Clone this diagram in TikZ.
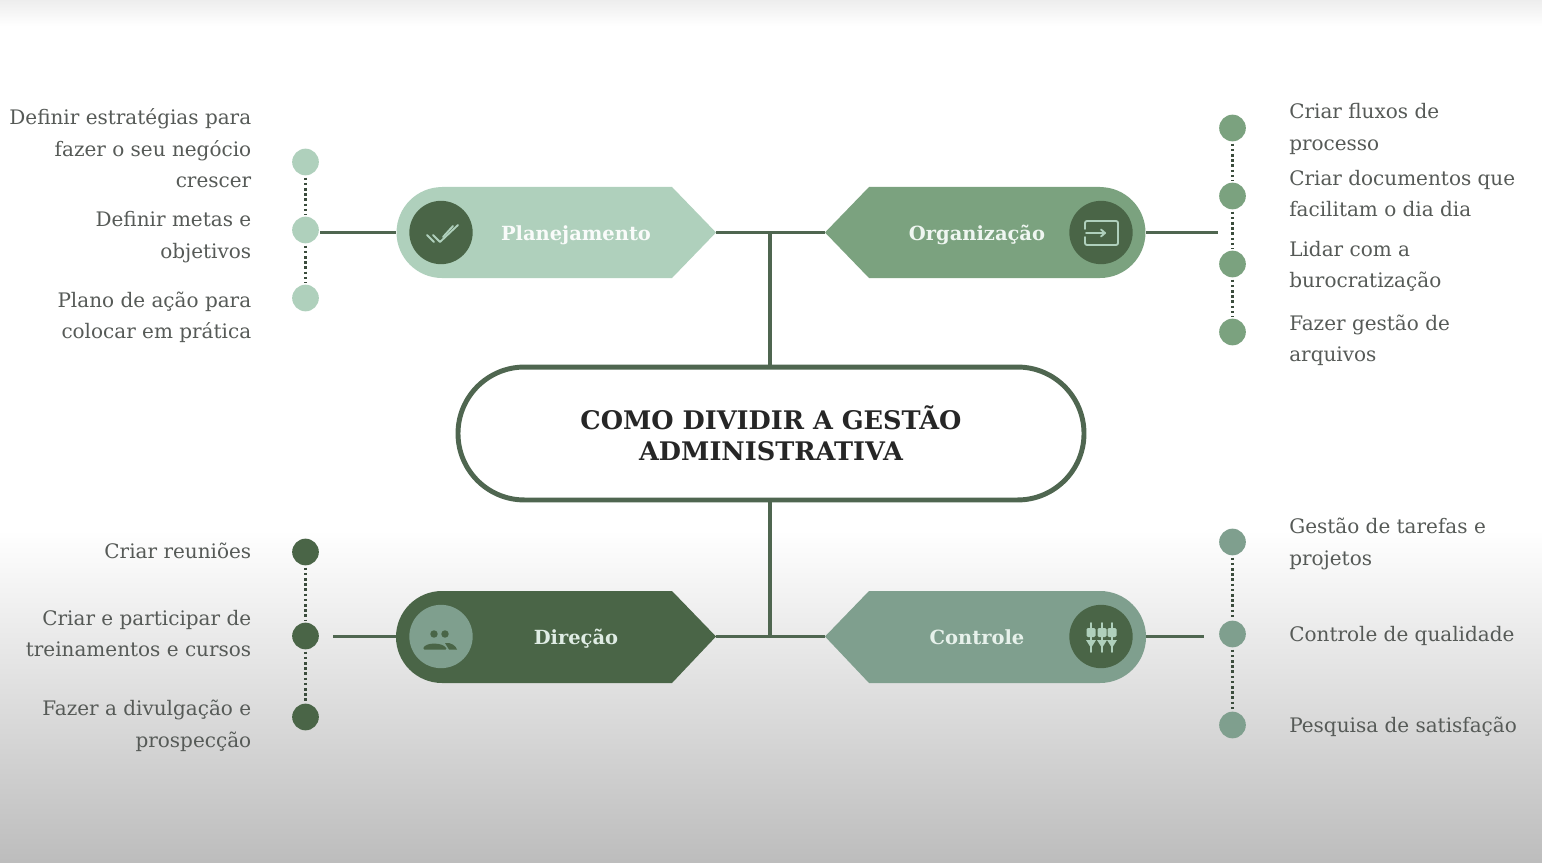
\documentclass[tikz,border=0pt]{standalone}
\usepackage{fontspec}
\setmainfont{DejaVu Serif}
\definecolor{mint}{HTML}{AFD0BC}
\definecolor{leaf}{HTML}{7BA27F}
\definecolor{forest}{HTML}{4A6547}
\definecolor{sage}{HTML}{7F9F8E}
\definecolor{ink}{HTML}{565A57}
\definecolor{lineg}{HTML}{4F6650}
\tikzset{
  x=0.75pt,y=-0.75pt,
  itemr/.style={anchor=west,align=left,text=ink,inner sep=0pt,font=\fontsize{15}{23.6}\selectfont},
  iteml/.style={anchor=east,align=right,text=ink,inner sep=0pt,font=\fontsize{15}{23.6}\selectfont},
  pilltext/.style={anchor=base,text=#1,inner sep=0pt,font=\fontsize{14.6}{18}\selectfont\bfseries},
  bullet/.style={circle,inner sep=0pt,minimum size=20pt,fill=#1},
  badge/.style={circle,inner sep=0pt,minimum size=47.5pt,fill=#1},
  conn/.style={draw=lineg,line width=2.3pt},
  dotline/.style={draw=lineg!75!black,line width=2.1pt,dash pattern=on 2pt off 1.9pt,shorten <=1.5pt,shorten >=1.5pt},
  glyph/.style={draw=#1,line width=1.4pt,line cap=round,line join=round},
}
\begin{document}
\begin{tikzpicture}
\useasboundingbox (0,0) rectangle (1542,863);
% background
\fill[white] (0,0) rectangle (1542,863);
\shade[top color=black!7,bottom color=white] (0,0) rectangle (1542,26);
\shade[top color=white,bottom color=black!26] (0,530) rectangle (1542,863);

% pills
\fill[mint] (442,187) -- (672,187) -- (716,232.5) -- (672,278) -- (442,278) arc[start angle=270,end angle=90,radius=34.1pt] -- cycle;
\fill[leaf] (1100,187) -- (869,187) -- (825,232.5) -- (869,278) -- (1100,278) arc[start angle=-90,end angle=90,radius=34.1pt] -- cycle;
\fill[forest] (442,591) -- (672,591) -- (716,636.5) -- (672,683) -- (442,683) arc[start angle=270,end angle=90,radius=34.5pt] -- cycle;
\fill[sage] (1100,591) -- (869,591) -- (825,636.5) -- (869,683) -- (1100,683) arc[start angle=-90,end angle=90,radius=34.5pt] -- cycle;

% anchors on the pills
\coordinate (planL) at (396,232.5);
\coordinate (planR) at (716,232.5);
\coordinate (orgL) at (825,232.5);
\coordinate (orgR) at (1146,232.5);
\coordinate (dirL) at (396,636.5);
\coordinate (dirR) at (716,636.5);
\coordinate (conL) at (825,636.5);
\coordinate (conR) at (1146,636.5);
\coordinate (topJ) at (770,232.5);
\coordinate (botJ) at (770,636.5);
\coordinate (planF) at (320,232.5);
\coordinate (orgF) at (1218,232.5);
\coordinate (dirF) at (333,636.5);
\coordinate (conF) at (1204,636.5);

% centre
\node[draw=lineg,line width=3.7pt,fill=white,rounded corners=49.8pt,minimum width=469.5pt,minimum height=99.7pt,inner sep=0pt,align=center,font=\fontsize{19.2}{23.2}\selectfont\bfseries,text=black!85] (centre) at (771,433.5) {\raisebox{0.7pt}{COMO DIVIDIR A GESTÃO}\\\raisebox{0.7pt}{ADMINISTRATIVA}};

% connectors
\draw[conn] (planF) -- (planL);
\draw[conn] (planR) -- (orgL);
\draw[conn] (orgR) -- (orgF);
\draw[conn] (dirF) -- (dirL);
\draw[conn] (dirR) -- (conL);
\draw[conn] (conR) -- (conF);
\draw[conn] (topJ) -- (centre.north -| topJ);
\draw[conn] (botJ) -- (centre.south -| botJ);

% bullets
\node[bullet=mint] (p1) at (305.5,162) {};
\node[bullet=mint] (p2) at (305.5,230) {};
\node[bullet=mint] (p3) at (305.5,298) {};
\node[bullet=leaf] (o1) at (1232.5,128) {};
\node[bullet=leaf] (o2) at (1232.5,196) {};
\node[bullet=leaf] (o3) at (1232.5,264) {};
\node[bullet=leaf] (o4) at (1232.5,332) {};
\node[bullet=forest] (d1) at (305.5,552) {};
\node[bullet=forest] (d2) at (305.5,636) {};
\node[bullet=forest] (d3) at (305.5,717) {};
\node[bullet=sage] (c1) at (1232.5,542) {};
\node[bullet=sage] (c2) at (1232.5,634) {};
\node[bullet=sage] (c3) at (1232.5,725) {};
\draw[dotline] (p1) -- (p2);
\draw[dotline] (p2) -- (p3);
\draw[dotline] (o1) -- (o2);
\draw[dotline] (o2) -- (o3);
\draw[dotline] (o3) -- (o4);
\draw[dotline] (d1) -- (d2);
\draw[dotline] (d2) -- (d3);
\draw[dotline] (c1) -- (c2);
\draw[dotline] (c2) -- (c3);

% pill labels
\node[pilltext=white!92!mint] (tplan) at (576,240) {Planejamento};
\node[pilltext=white!80!mint] (torg) at (977,240) {Organização};
\node[pilltext=white!60!mint] (tdir) at (576,644.5) {Direção};
\node[pilltext=white!70!mint] (tcon) at (977,644.5) {Controle};

% badges
\node[badge=forest] (iplan) at (441,232.5) {};
\node[badge=forest] (iorg) at (1101,232.5) {};
\node[badge=sage] (idir) at (441,636.5) {};
\node[badge=forest] (icon) at (1101,636.5) {};

% check icon
\draw[glyph=mint] (427,235) -- (434,242);
\draw[glyph=mint] (433,235) -- (440,242) -- (458,225);
\draw[glyph=mint] (443,237) -- (453,226);
% door icon
\draw[glyph=mint,rounded corners=1.5pt] (1085,229) -- (1085,221) -- (1118,221) -- (1118,245) -- (1085,245) -- (1085,237);
\draw[glyph=mint] (1086,233) -- (1105,233);
\draw[glyph=mint] (1101,229.5) -- (1105,233) -- (1101,236.5);
% people icon
\fill[forest] (434,634) circle[radius=2.8pt];
\fill[forest] (445,634) circle[radius=2.8pt];
\fill[forest,rounded corners=1pt] (423,649.5) .. controls (425,642) and (443,642) .. (447,649.5) -- cycle;
\fill[forest] (445,643) .. controls (451,642) and (456,646) .. (457,649.5) -- (449,649.5) -- cycle;
% sliders icon
\foreach \sx in {1091,1102,1112}{
  \draw[glyph=mint] (\sx,623) -- (\sx,652);
  \fill[mint,rounded corners=1pt] (\sx-4.5,628) rectangle (\sx+4.5,637);
  \fill[mint] (\sx-5,640) -- (\sx+5,640) -- (\sx,648) -- cycle;
}

% left items
\node[iteml] (lp1) at (251.5,148.5) {Definir estratégias para\\fazer o seu negócio\\crescer};
\node[iteml] (lp2) at (251.5,237) {Definir metas e\\objetivos};
\node[iteml] (lp3) at (251.5,317.5) {Plano de ação para\\colocar em prática};
\node[iteml] (ld1) at (251.5,551) {Criar reuniões};
\node[iteml] (ld2) at (251.5,633.5) {Criar e participar de\\treinamentos e cursos};
\node[iteml] (ld3) at (251.5,726) {Fazer a divulgação e\\prospecção};
% right items
\node[itemr] (ro1) at (1289,129) {Criar fluxos de\\processo};
\node[itemr] (ro2) at (1289,193.5) {Criar documentos que\\facilitam o dia dia};
\node[itemr] (ro3) at (1289,266.5) {Lidar com a\\burocratização};
\node[itemr] (ro4) at (1289,340.5) {Fazer gestão de\\arquivos};
\node[itemr] (rc1) at (1289,544) {Gestão de tarefas e\\projetos};
\node[itemr] (rc2) at (1289,636) {Controle de qualidade};
\node[itemr] (rc3) at (1289,727) {Pesquisa de satisfação};
\end{tikzpicture}
\end{document}
